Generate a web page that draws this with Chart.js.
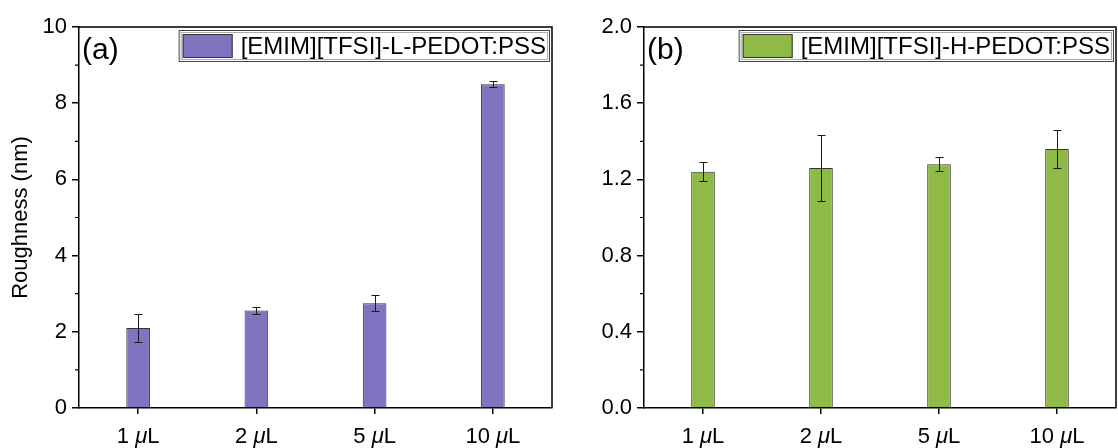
<!DOCTYPE html>
<html>
<head>
<meta charset="utf-8">
<script src="https://cdn.jsdelivr.net/npm/chart.js@4.4.0/dist/chart.umd.min.js"></script>
<style>
  html, body { margin: 0; padding: 0; background: #fff; }
  #wrap { position: relative; width: 1118px; height: 448px; }
  canvas { position: absolute; top: 0; }
</style>
</head>
<body>
<div id="wrap">
  <canvas id="left" width="559" height="448" style="left:0"></canvas>
  <canvas id="right" width="559" height="448" style="left:559px"></canvas>
</div>
<script>
const volumes = ["1 μL", "2 μL", "5 μL", "10 μL"];
const roughL = [2.1, 2.56, 2.75, 8.5];
const errL = [0.36, 0.08, 0.21, 0.08];
const roughH = [1.24, 1.26, 1.28, 1.36];
const errH = [0.05, 0.175, 0.035, 0.1];
const ticksL = [0, 2, 4, 6, 8, 10];
const ticksH = [0, 0.4, 0.8, 1.2, 1.6, 2.0];

const FONT = "'Liberation Sans', Arial, sans-serif";

// Origin-like extras: error bars, closed frame, minor ticks, italic mu labels, legend box
const originFrame = {
  id: "originFrame",
  afterDatasetsDraw(chart, args, opts) {
    const { ctx, chartArea: a, scales: { x, y } } = chart;
    const ds = chart.data.datasets[0];
    const meta = chart.getDatasetMeta(0);
    ctx.save();

    // error bars
    ctx.strokeStyle = "#1a1a1a";
    ctx.lineWidth = 1;
    meta.data.forEach((bar, i) => {
      const v = ds.data[i], e = opts.errors[i];
      const yt = Math.round(y.getPixelForValue(v + e)) + 0.5;
      const yb = Math.round(y.getPixelForValue(v - e)) + 0.5;
      const cx = Math.round(bar.x) + 0.5;
      ctx.beginPath();
      ctx.moveTo(cx, yt); ctx.lineTo(cx, yb);
      ctx.moveTo(cx - 4, yt); ctx.lineTo(cx + 4, yt);
      ctx.moveTo(cx - 4, yb); ctx.lineTo(cx + 4, yb);
      ctx.stroke();
    });

    // top and right frame
    ctx.strokeStyle = "#000";
    ctx.lineWidth = 1.5;
    ctx.beginPath();
    ctx.moveTo(a.left, a.top);
    ctx.lineTo(a.right, a.top);
    ctx.lineTo(a.right, a.bottom);
    ctx.stroke();

    // minor ticks halfway between majors
    const t = opts.ticks;
    ctx.lineWidth = 1.2;
    ctx.beginPath();
    for (let i = 0; i < t.length - 1; i++) {
      const py = y.getPixelForValue((t[i] + t[i + 1]) / 2);
      ctx.moveTo(a.left, py);
      ctx.lineTo(a.left - 4, py);
    }
    ctx.stroke();

    // x labels with italic mu
    ctx.fillStyle = "#000";
    ctx.textBaseline = "alphabetic";
    const normal = `22px ${FONT}`, italic = `italic 22px ${FONT}`;
    chart.data.labels.forEach((lab, i) => {
      const [pre, post] = lab.split("μ");
      ctx.font = normal;
      const w1 = ctx.measureText(pre).width, w3 = ctx.measureText(post).width;
      ctx.font = italic;
      const w2 = ctx.measureText("μ").width;
      let px = x.getPixelForTick(i) - (w1 + w2 + w3) / 2;
      const py = a.bottom + 35;
      ctx.font = normal; ctx.fillText(pre, px, py); px += w1;
      ctx.font = italic; ctx.fillText("μ", px, py); px += w2;
      ctx.font = normal; ctx.fillText(post, px, py);
    });

    // panel label
    ctx.font = `30px ${FONT}`;
    ctx.fillText(opts.panel, a.left + 3, a.top + 32);

    // legend box
    ctx.font = `24px ${FONT}`;
    const tw = ctx.measureText(ds.label).width;
    const h = 32, top = a.top + 3, right = a.right - 2;
    const left = right - (4 + 50 + 8 + tw + 4);
    ctx.fillStyle = "#fff";
    ctx.fillRect(left, top, right - left, h);
    ctx.lineWidth = 1;
    ctx.strokeStyle = "#444";
    ctx.strokeRect(left + 0.5, top + 0.5, right - left - 1, h - 1);
    ctx.strokeStyle = "#aaa";
    ctx.strokeRect(left + 2.5, top + 2.5, right - left - 5, h - 5);
    ctx.fillStyle = ds.backgroundColor;
    ctx.fillRect(left + 4, top + 4, 50, h - 8);
    ctx.strokeStyle = "#333";
    ctx.strokeRect(left + 4.5, top + 4.5, 49, h - 9);
    ctx.fillStyle = "#000";
    ctx.textBaseline = "middle";
    ctx.fillText(ds.label, left + 62, top + h / 2 + 1);

    ctx.restore();
  },
};

function makeChart(id, label, values, errors, ticks, color, panel, yWidth, padRight, title, decimals) {
  return new Chart(document.getElementById(id).getContext("2d"), {
    type: "bar",
    data: {
      labels: volumes,
      datasets: [
        {
          label,
          data: values,
          backgroundColor: color,
          borderColor: "#333",
          borderWidth: 1,
          barPercentage: 0.2,
          categoryPercentage: 1,
        },
      ],
    },
    options: {
      responsive: false,
      animation: false,
      layout: { padding: { top: 27, right: padRight, left: 0, bottom: 0 } },
      plugins: {
        legend: { display: false },
        tooltip: { enabled: false },
        originFrame: { errors, ticks, panel },
      },
      scales: {
        x: {
          offset: true,
          grid: { offset: false, drawOnChartArea: false, tickLength: 6, color: "#000", lineWidth: 1.5 },
          border: { display: true, color: "#000", width: 1.5 },
          ticks: { color: "rgba(0,0,0,0)", font: { size: 22, family: FONT } },
          afterFit: (s) => { s.height = 40; },
        },
        y: {
          min: ticks[0],
          max: ticks[ticks.length - 1],
          afterBuildTicks: (s) => { s.ticks = ticks.map((v) => ({ value: v })); },
          grid: { drawOnChartArea: false, tickLength: 7, color: "#000", lineWidth: 1.5 },
          border: { display: true, color: "#000", width: 1.5 },
          ticks: {
            color: "#000",
            padding: 5,
            font: { size: 22, family: FONT },
            callback: (v) => v.toFixed(decimals),
          },
          title: {
            display: !!title,
            text: title,
            color: "#000",
            font: { size: 22, family: FONT },
            padding: { top: 8, bottom: 0 },
          },
          afterFit: (s) => { s.width = yWidth; },
        },
      },
    },
    plugins: [originFrame],
  });
}

makeChart("left", "[EMIM][TFSI]-L-PEDOT:PSS", roughL, errL, ticksL, "#8074C0", "(a)", 79, 7, "Roughness (nm)", 0);
makeChart("right", "[EMIM][TFSI]-H-PEDOT:PSS", roughH, errH, ticksH, "#8FBA48", "(b)", 85, 2, "", 1);
</script>
</body>
</html>
